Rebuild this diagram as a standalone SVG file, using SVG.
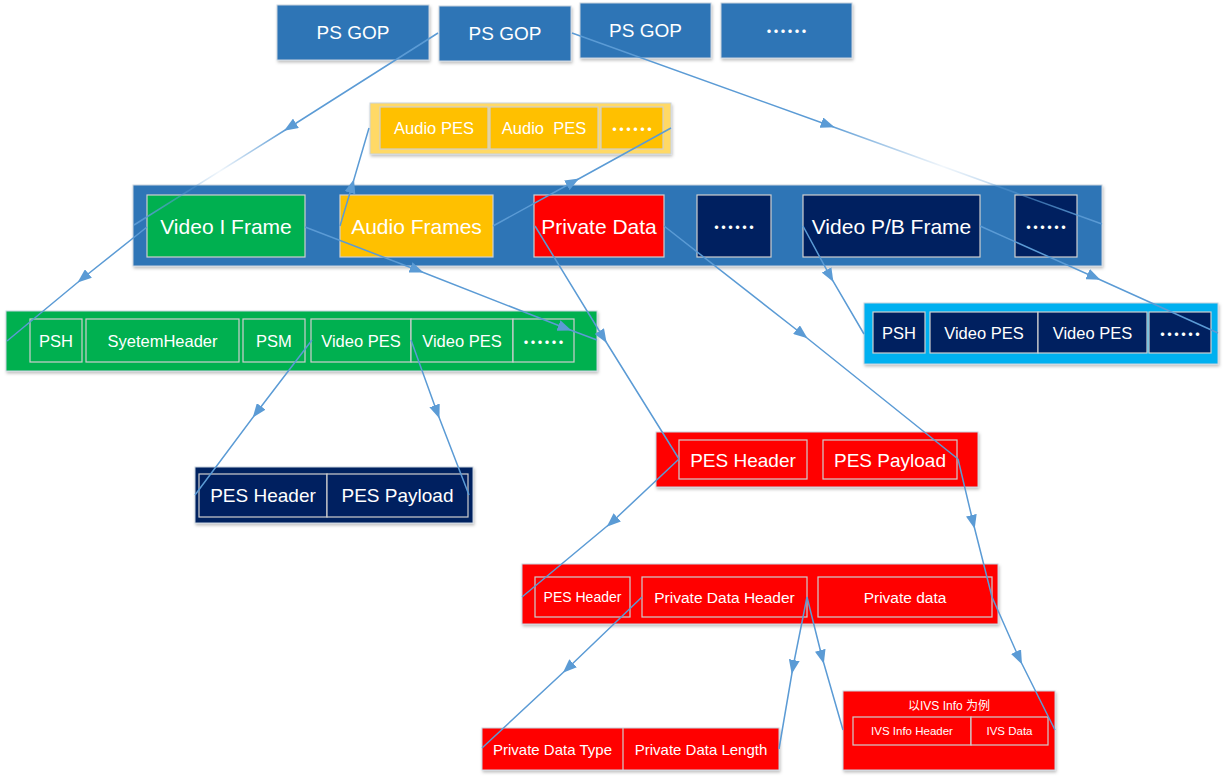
<svg xmlns="http://www.w3.org/2000/svg" width="1225" height="780" viewBox="0 0 1225 780">
<style>
text{font-family:"Liberation Sans","Noto Sans CJK SC",sans-serif;fill:#fff;text-anchor:middle;dominant-baseline:central}
.dots{font-family:"Noto Sans CJK SC",sans-serif;font-size:21px;font-weight:bold}
.outer{stroke:#c9d3de;stroke-width:1;filter:url(#sh)}
.cell{stroke:#cfcfcf;stroke-width:1.2}
.blue{fill:#2e75b6}.green{fill:#00b050}.orange{fill:#ffc000}.lorange{fill:#ffd966}
.red{fill:#ff0000}.navy{fill:#002060}.sky{fill:#00b0f0}
.conn{fill:none;stroke:#5b9bd5;stroke-width:1.5;marker-mid:url(#arr)}
</style>
<defs>
<filter id="sh" x="-5%" y="-5%" width="110%" height="125%">
<feDropShadow dx="1" dy="2" stdDeviation="1.5" flood-color="#000" flood-opacity="0.25"/>
</filter>
<marker id="arr" markerUnits="userSpaceOnUse" markerWidth="15" markerHeight="11" refX="7" refY="5.5" orient="auto">
<path d="M0,0 L14,5.5 L0,11 Z" fill="#5b9bd5"/>
</marker>
<linearGradient id="gl" gradientUnits="userSpaceOnUse" x1="438" y1="33" x2="134" y2="225">
<stop offset="0" stop-color="#5b9bd5"/><stop offset="0.5" stop-color="#5b9bd5"/>
<stop offset="0.72" stop-color="#5b9bd5" stop-opacity="0.08"/><stop offset="1" stop-color="#5b9bd5"/>
</linearGradient>
<linearGradient id="gr" gradientUnits="userSpaceOnUse" x1="572" y1="33" x2="1102" y2="224">
<stop offset="0" stop-color="#5b9bd5"/><stop offset="0.48" stop-color="#5b9bd5"/>
<stop offset="0.7" stop-color="#5b9bd5" stop-opacity="0.08"/><stop offset="1" stop-color="#5b9bd5"/>
</linearGradient>
</defs>
<rect width="1225" height="780" fill="#fff"/>

<g id="ps-gop-row">
<rect class="outer blue" x="277" y="5" width="152" height="55"/>
<text x="353" y="32" font-size="19">PS GOP</text>
<rect class="outer blue" x="439" y="6" width="132" height="55"/>
<text x="505" y="33" font-size="19">PS GOP</text>
<rect class="outer blue" x="580" y="3" width="131" height="55"/>
<text x="645.5" y="30" font-size="19">PS GOP</text>
<rect class="outer blue" x="721" y="3" width="131" height="55"/>
<text x="786.5" y="30" class="dots">……</text>
</g>

<g id="audio-pes-group">
<rect class="outer lorange" x="370" y="103" width="301" height="51"/>
<rect class="cell orange" x="380" y="107" width="108" height="42"/>
<text x="434" y="128" font-size="16.5">Audio PES</text>
<rect class="cell orange" x="490" y="107" width="108" height="42"/>
<text x="544" y="128" font-size="16.5" xml:space="preserve">Audio  PES</text>
<rect class="cell orange" x="601" y="107" width="62" height="42"/>
<text x="632" y="128" class="dots">……</text>
</g>

<g id="ps-gop-frames">
<rect class="outer blue" x="133" y="185" width="969" height="81"/>
<rect class="cell green" x="147" y="195" width="158" height="62"/>
<text x="226" y="226" font-size="21">Video I Frame</text>
<rect class="cell orange" x="340" y="195" width="153" height="62"/>
<text x="416.5" y="226" font-size="21">Audio Frames</text>
<rect class="cell red" x="534" y="195" width="130" height="62"/>
<text x="599" y="226" font-size="21">Private Data</text>
<rect class="cell navy" x="697" y="195" width="74" height="62"/>
<text x="734" y="226" class="dots">……</text>
<rect class="cell navy" x="803" y="195" width="177" height="62"/>
<text x="891.5" y="226" font-size="21">Video P/B Frame</text>
<rect class="cell navy" x="1015" y="195" width="62" height="62"/>
<text x="1046" y="226" class="dots">……</text>
</g>

<g id="i-frame-ps">
<rect class="outer green" x="6" y="311" width="591" height="60"/>
<rect class="cell green" x="30" y="319" width="52" height="43"/>
<text x="56" y="341" font-size="16.5">PSH</text>
<rect class="cell green" x="86" y="319" width="153" height="43"/>
<text x="162.5" y="341" font-size="16.5">SyetemHeader</text>
<rect class="cell green" x="243" y="319" width="62" height="43"/>
<text x="274" y="341" font-size="16.5">PSM</text>
<rect class="cell green" x="311" y="319" width="100" height="43"/>
<text x="361" y="341" font-size="16.5">Video PES</text>
<rect class="cell green" x="411" y="319" width="102" height="43"/>
<text x="462" y="341" font-size="16.5">Video PES</text>
<rect class="cell green" x="513" y="319" width="61" height="43"/>
<text x="543.5" y="341" class="dots">……</text>
</g>

<g id="pb-frame-ps">
<rect class="outer sky" x="864" y="303" width="354" height="61"/>
<rect class="cell navy" x="873" y="312" width="52" height="41"/>
<text x="899" y="333" font-size="16.5">PSH</text>
<rect class="cell navy" x="930" y="312" width="108" height="41"/>
<text x="984" y="333" font-size="16.5">Video PES</text>
<rect class="cell navy" x="1038" y="312" width="109" height="41"/>
<text x="1092.5" y="333" font-size="16.5">Video PES</text>
<rect class="cell navy" x="1149" y="312" width="62" height="41"/>
<text x="1180" y="333" class="dots">……</text>
</g>

<g id="video-pes">
<rect class="outer navy" x="195" y="467" width="278" height="56"/>
<rect class="cell navy" x="199" y="474" width="128" height="43"/>
<text x="263" y="495.5" font-size="19">PES Header</text>
<rect class="cell navy" x="327" y="474" width="141" height="43"/>
<text x="397.5" y="495.5" font-size="19">PES Payload</text>
</g>

<g id="private-pes">
<rect class="outer red" x="656" y="432" width="322" height="55"/>
<rect class="cell red" x="679" y="440" width="128" height="39"/>
<text x="743" y="460" font-size="19">PES Header</text>
<rect class="cell red" x="823" y="440" width="134" height="39"/>
<text x="890" y="460" font-size="19">PES Payload</text>
</g>

<g id="private-pes-detail">
<rect class="outer red" x="522" y="564" width="476" height="60"/>
<rect class="cell red" x="535" y="577" width="95" height="40"/>
<text x="582.5" y="597" font-size="14">PES Header</text>
<rect class="cell red" x="642" y="577" width="165" height="40"/>
<text x="724.5" y="597" font-size="15.5">Private Data Header</text>
<rect class="cell red" x="818" y="577" width="174" height="40"/>
<text x="905" y="597" font-size="15.5">Private data</text>
</g>

<g id="private-data-header">
<rect class="outer red" x="482" y="728" width="297" height="42"/>
<line x1="623" y1="728" x2="623" y2="770" stroke="#cfcfcf" stroke-width="1.2"/>
<text x="552.5" y="749" font-size="15">Private Data Type</text>
<text x="701" y="749" font-size="15">Private Data Length</text>
</g>

<g id="ivs-info">
<rect class="outer red" x="843" y="691" width="212" height="79"/>
<text x="949" y="706" font-size="12">以IVS Info 为例</text>
<rect class="cell red" x="853" y="717" width="118" height="28"/>
<text x="912" y="731" font-size="11.5">IVS Info Header</text>
<rect class="cell red" x="971" y="717" width="77" height="28"/>
<text x="1009.5" y="731" font-size="11.5">IVS Data</text>
</g>

<g id="connectors">
<path class="conn" style="stroke:url(#gl)" d="M438,33 L290,127 L134,225"/>
<path class="conn" style="stroke:url(#gr)" d="M572,33 L828,125 L1102,224"/>
<path class="conn" d="M147,227 L83,278 L7,341"/>
<path class="conn" d="M305,227 L417,270 L565,328 L597,340"/>
<path class="conn" d="M340,226 L352,186 L369,128"/>
<path class="conn" d="M493,226 L573,182 L671,128"/>
<path class="conn" d="M535,226 L603,337 L679,459"/>
<path class="conn" d="M664,226 L802,334 L958,459"/>
<path class="conn" d="M803,226 L830,276 L864,334"/>
<path class="conn" d="M980,226 L1094,277 L1218,333"/>
<path class="conn" d="M312,340 L257,412 L195,495"/>
<path class="conn" d="M411,340 L437,412 L469,495"/>
<path class="conn" d="M679,459 L612,522 L522,597"/>
<path class="conn" d="M958,459 L973,522 L992,597"/>
<path class="conn" d="M992,597 L1019,658 L1055,730"/>
<path class="conn" d="M642,597 L568,668 L482,748"/>
<path class="conn" d="M807,597 L793,667 L779,749"/>
<path class="conn" d="M807,597 L822,657 L843,730"/>
</g>
</svg>
